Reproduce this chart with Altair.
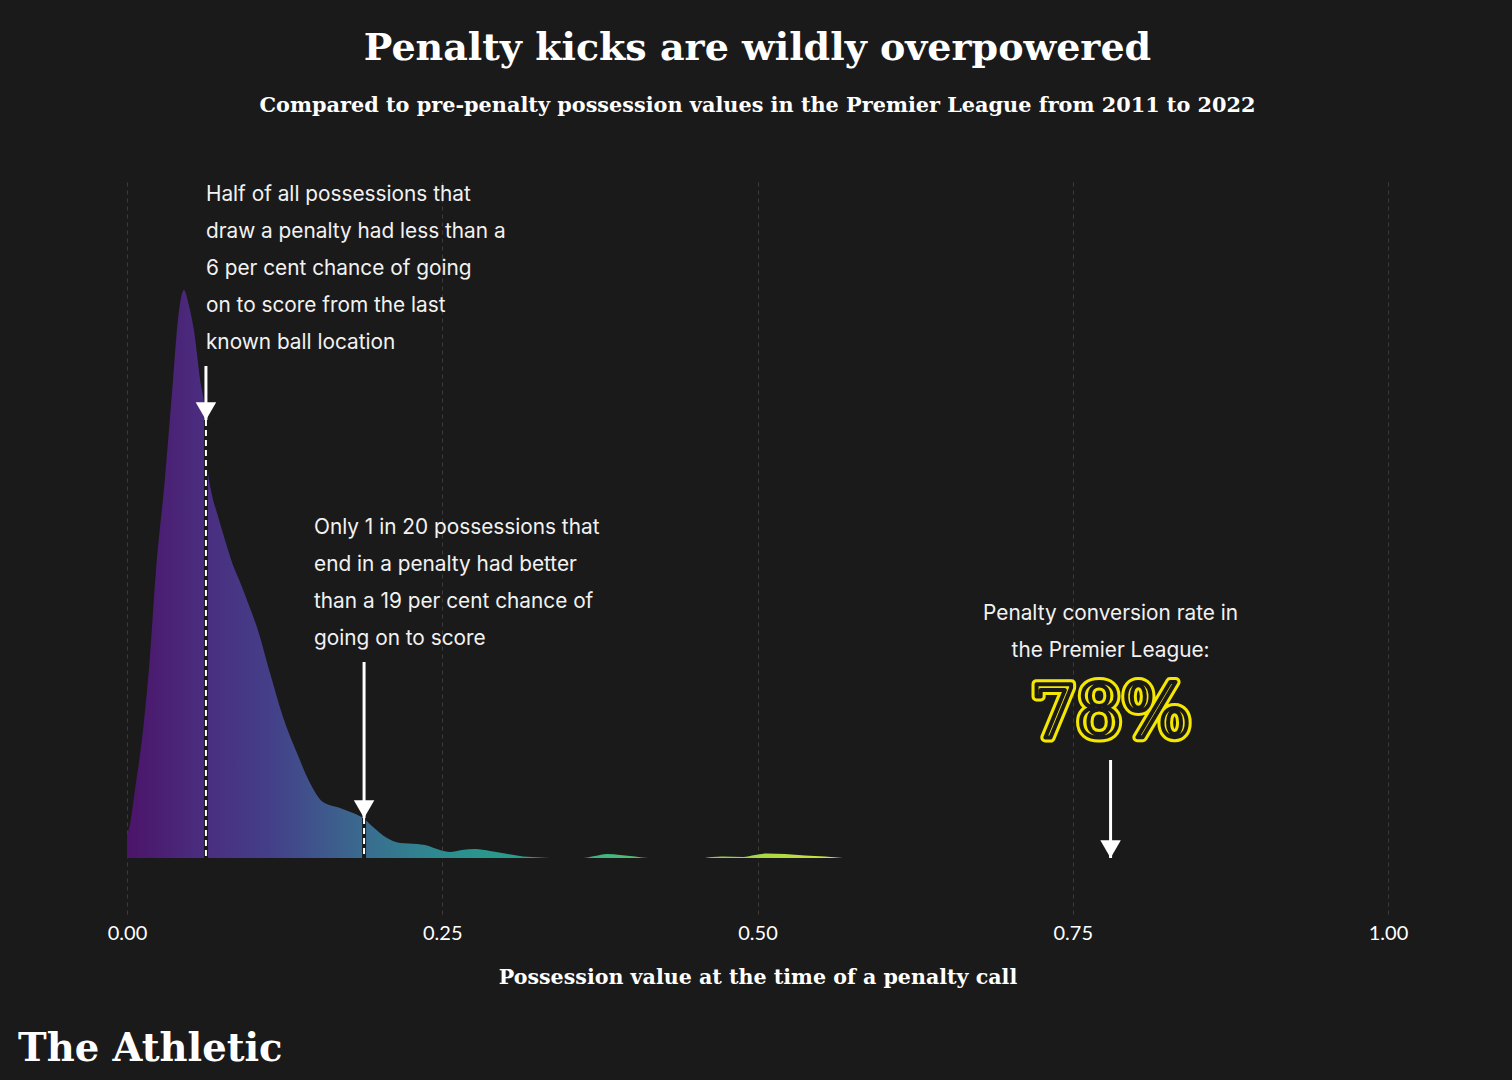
import altair as alt
import pandas as pd

BG = "#1a1a1a"
YELLOW = "#f5e800"

# Density curve (x = possession value, y = density, arbitrary units)
pv = [0.000, 0.003, 0.006, 0.013, 0.018, 0.023, 0.030, 0.0365, 0.0404, 0.0452,
      0.049, 0.053, 0.058, 0.0619, 0.0634, 0.0674, 0.0714, 0.0777, 0.084, 0.0896,
      0.0975, 0.103, 0.1134, 0.1237, 0.1348, 0.1451, 0.1554, 0.1689, 0.1792, 0.1872,
      0.1951, 0.2062, 0.2165, 0.230, 0.2363, 0.2482, 0.2561, 0.2657, 0.276, 0.2879,
      0.2998, 0.314, 0.3275, 0.3354, 0.3616, 0.3711, 0.3806, 0.391, 0.4029, 0.4132,
      0.4568, 0.464, 0.4718, 0.4885, 0.498, 0.5075, 0.5218, 0.5377, 0.5535, 0.5678]
dens = [23, 38, 65, 131, 198, 288, 378, 478, 538, 568,
        553, 528, 478, 443, 398, 363, 345, 318, 293, 276,
        250, 231, 185, 141, 105, 75, 56, 50, 45, 40,
        31, 20, 15, 14, 13, 8, 6, 8, 9, 7,
        4.5, 1.5, 0.5, 0, 0, 2, 4, 3, 1.5, 0,
        0, 1, 1.5, 1, 3, 4.5, 4, 2.5, 1.5, 0]
assert len(pv) == len(dens)

x_ticks = [0.0, 0.25, 0.5, 0.75, 1.0]

# Arrows: x position, top of shaft, tip (density units)
arrow_x = [0.0626, 0.188, 0.78]
arrow_top = [492, 196, 98]
arrow_tip = [438, 40, 0]

# Dashed marker lines (median and 95th percentile)
marker_x = [0.0626, 0.188]
marker_top = [438, 40]

note1 = ["Half of all possessions that", "draw a penalty had less than a",
         "6 per cent chance of going", "on to score from the last", "known ball location"]
note2 = ["Only 1 in 20 possessions that", "end in a penalty had better",
         "than a 19 per cent chance of", "going on to score"]
note3 = ["Penalty conversion rate in", "the Premier League:"]
big_value = "78%"

curve = pd.DataFrame({"pv": pv, "dens": dens})
arrows = pd.DataFrame({"x": arrow_x, "top": arrow_top, "tip": arrow_tip})
markers = pd.DataFrame({"x": marker_x, "top": marker_top, "zero": [0, 0]})

xscale = alt.Scale(domain=[0, 1], nice=False, zero=False)
yscale = alt.Scale(domain=[-57, 676], nice=False, zero=False)

gradient = alt.Gradient(
    gradient="linear",
    x1=0, x2=1, y1=0, y2=0,
    stops=[
        alt.GradientStop(offset=0.0, color="#4b1469"),
        alt.GradientStop(offset=0.1, color="#4a2c7e"),
        alt.GradientStop(offset=0.2, color="#443f89"),
        alt.GradientStop(offset=0.33, color="#3a6b8f"),
        alt.GradientStop(offset=0.45, color="#2c8e8f"),
        alt.GradientStop(offset=0.55, color="#26a08a"),
        alt.GradientStop(offset=0.68, color="#45b97a"),
        alt.GradientStop(offset=0.85, color="#98d548"),
        alt.GradientStop(offset=1.0, color="#d8e43a"),
    ],
)

area = alt.Chart(curve).mark_area(color=gradient, interpolate="monotone").encode(
    x=alt.X("pv:Q", scale=xscale,
            axis=alt.Axis(values=x_ticks, format=".2f", labelFlush=False,
                          title="Possession value at the time of a penalty call")),
    y=alt.Y("dens:Q", scale=yscale, axis=None),
    y2=alt.datum(0),
)

marker_bg = alt.Chart(markers).mark_rule(color=BG, strokeWidth=4).encode(
    x="x:Q", y="top:Q", y2="zero:Q")
marker_fg = alt.Chart(markers).mark_rule(color="white", strokeWidth=2, strokeDash=[6, 4]).encode(
    x="x:Q", y="top:Q", y2="zero:Q")

shaft = alt.Chart(arrows).mark_rule(color="white", strokeWidth=3).encode(
    x="x:Q", y="top:Q", y2="tip:Q")
head = alt.Chart(arrows).mark_point(shape="triangle-down", filled=True, color="white",
                                     opacity=1, size=420, yOffset=-8.9).encode(
    x="x:Q", y="tip:Q")

txt_style = dict(font="Inter", fontSize=20.8, color="#f2f2f2", lineHeight=37)
t1 = alt.Chart().mark_text(text=note1, align="left", baseline="top", **txt_style).encode(
    x=alt.datum(0.0626), y=alt.datum(673))
t2 = alt.Chart().mark_text(text=note2, align="left", baseline="top", **txt_style).encode(
    x=alt.datum(0.1483), y=alt.datum(340))
t3 = alt.Chart().mark_text(text=note3, align="center", baseline="top", **txt_style).encode(
    x=alt.datum(0.78), y=alt.datum(254))

big_a = alt.Chart().mark_text(text=big_value, font="DejaVu Serif", fontSize=72,
                              fill=YELLOW, stroke=YELLOW, strokeWidth=10,
                              strokeJoin="round", align="center", baseline="middle").encode(
    x=alt.datum(0.78), y=alt.datum(143))
big_b = alt.Chart().mark_text(text=big_value, font="DejaVu Serif", fontSize=72,
                              fill=YELLOW, stroke=BG, strokeWidth=4,
                              strokeJoin="round", align="center", baseline="middle").encode(
    x=alt.datum(0.78), y=alt.datum(143))

logo = alt.Chart().mark_text(text="The Athletic", font="DejaVu Serif",
                             fontSize=38.5, fontWeight="bold", color="white",
                             align="left", baseline="alphabetic").encode(
    x=alt.value(-109), y=alt.value(879))

chart = alt.layer(
    area, marker_bg, marker_fg, shaft, head, t1, t2, t3, big_a, big_b, logo
).properties(
    width=1261,
    height=733,
    autosize=alt.AutoSizeParams(type="none"),
    padding={"left": 127, "top": 182, "right": 124, "bottom": 165},
    background=BG,
    title=alt.TitleParams(
        text="Penalty kicks are wildly overpowered",
        subtitle="Compared to pre-penalty possession values in the Premier League from 2011 to 2022",
        anchor="middle",
        font="DejaVu Serif", fontSize=38, fontWeight="bold", color="white",
        subtitleFont="DejaVu Serif", subtitleFontSize=20.8, subtitleFontWeight="bold",
        subtitleColor="white", subtitlePadding=28, offset=66,
    ),
).configure_view(stroke=None).configure_axis(
    domain=False, ticks=False,
    grid=True, gridColor="#3c3c3c", gridDash=[4, 4], gridWidth=1,
    labelFont="Lato", labelFontSize=20, labelColor="white", labelPadding=8,
    titleFont="DejaVu Serif", titleFontSize=20.6, titleFontWeight="bold",
    titleColor="white", titlePadding=24,
)

chart.save("out.html", embed_options={"renderer": "svg", "actions": False})
